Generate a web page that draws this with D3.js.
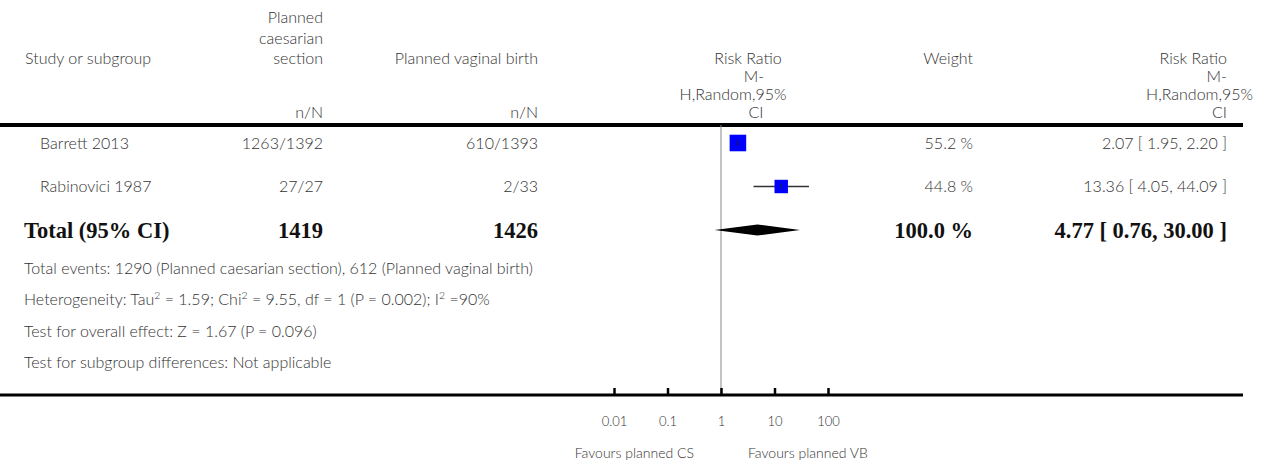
<!DOCTYPE html>
<html>
<head>
<meta charset="utf-8">
<script src="https://cdn.jsdelivr.net/npm/d3@7"></script>
<style>
  body { margin: 0; background: #fff; }
  svg { display: block; }
  text { font-family: Lato, "Open Sans", sans-serif; font-weight: 300; fill: #333; }
  .bold { font-family: "Liberation Serif", "DejaVu Serif", serif; font-weight: bold; fill: #111; }
</style>
</head>
<body>
<svg></svg>
<script>
const width = 1271;
const height = 463;

// study rows
const studies = ["Barrett 2013", "Rabinovici 1987"];
const csEvents = [1263, 27];
const csTotal = [1392, 27];
const vbEvents = [610, 2];
const vbTotal = [1393, 33];
const ratios = [2.07, 13.36];
const lower = [1.95, 4.05];
const upper = [2.20, 44.09];
const weights = [55.2, 44.8];

// pooled
const totalLabel = "Total (95% CI)";
const totalCS = 1419;
const totalVB = 1426;
const totalRatio = 4.77;
const totalLower = 0.76;
const totalUpper = 30.00;
const totalWeight = 100.0;

const footnotes = [
  "Total events: 1290 (Planned caesarian section), 612 (Planned vaginal birth)",
  "Heterogeneity: Tau^2 = 1.59; Chi^2 = 9.55, df = 1 (P = 0.002); I^2 =90%",
  "Test for overall effect: Z = 1.67 (P = 0.096)",
  "Test for subgroup differences: Not applicable"
];

const tickValues = [0.01, 0.1, 1, 10, 100];
const tickLabels = ["0.01", "0.1", "1", "10", "100"];
const favours = ["Favours planned CS", "Favours planned VB"];

const svg = d3.select('svg').attr('width', width).attr('height', height);

const fs = 16;
// columns
const colStudy = 25, colStudyRow = 40, colCS = 323, colVB = 538, colWeight = 973, colRR = 1227;
const lineEnd = 1243;
const headerLineY = 125, axisLineY = 395;

const x = d3.scaleLog().domain([0.01, 100]).range([614, 828]);
const rowY = d3.scalePoint().domain(studies.concat([totalLabel])).range([143, 230]);
const boxSize = d3.scaleLinear().domain([0, 100]).range([0, 30]);

function lines(g, arr, xPos, y0, step, anchor, extra) {
  arr.forEach((t, i) => {
    g.append('text')
      .attr('x', xPos + ((extra && extra[i]) || 0))
      .attr('y', y0 + i * step)
      .attr('text-anchor', anchor)
      .style('font-size', fs + 'px')
      .text(t);
  });
}

// header
const head = svg.append('g').classed('header', true);
lines(head, ["Study or subgroup"], colStudy, 64, 0, 'start');
lines(head, ["Planned", "caesarian", "section"], colCS, 23, 20.5, 'end');
lines(head, ["Planned vaginal birth"], colVB, 64, 0, 'end');
lines(head, ["n/N"], colCS, 118, 0, 'end');
lines(head, ["n/N"], colVB, 118, 0, 'end');
lines(head, ["Risk Ratio", "M-", "H,Random,95%", "CI"], 748, 64, 18, 'middle', [0, 6, -15, 8]);
lines(head, ["Weight"], colWeight, 64, 0, 'end');
lines(head, ["Risk Ratio", "M-", "H,Random,95%", "CI"], colRR, 64, 18, 'end', [0, 0, 26, 0]);

svg.append('line')
  .attr('x1', 0).attr('x2', lineEnd)
  .attr('y1', headerLineY).attr('y2', headerLineY)
  .attr('stroke', '#000').attr('stroke-width', 4);

// line of no effect
svg.append('line')
  .attr('x1', x(1)).attr('x2', x(1))
  .attr('y1', headerLineY).attr('y2', axisLineY)
  .attr('stroke', '#888').attr('stroke-width', 1);

// study rows
const rows = svg.append('g').classed('rows', true)
  .selectAll('g')
  .data(studies)
  .join('g')
  .attr('transform', d => `translate(0,${rowY(d)})`);

rows.append('text').attr('x', colStudyRow).attr('y', 5.5).style('font-size', fs + 'px').text(d => d);
rows.append('text').attr('x', colCS).attr('y', 5.5).attr('text-anchor', 'end').style('font-size', fs + 'px')
  .text((d, i) => `${csEvents[i]}/${csTotal[i]}`);
rows.append('text').attr('x', colVB).attr('y', 5.5).attr('text-anchor', 'end').style('font-size', fs + 'px')
  .text((d, i) => `${vbEvents[i]}/${vbTotal[i]}`);
rows.append('line')
  .attr('x1', (d, i) => x(lower[i])).attr('x2', (d, i) => x(upper[i]))
  .attr('y1', 0).attr('y2', 0)
  .attr('stroke', '#333').attr('stroke-width', 1.5);
rows.append('rect')
  .attr('x', (d, i) => x(ratios[i]) - boxSize(weights[i]) / 2)
  .attr('y', (d, i) => -boxSize(weights[i]) / 2)
  .attr('width', (d, i) => boxSize(weights[i]))
  .attr('height', (d, i) => boxSize(weights[i]))
  .attr('fill', '#0000ff');
rows.append('line')
  .attr('x1', (d, i) => x(ratios[i])).attr('x2', (d, i) => x(ratios[i]))
  .attr('y1', -3).attr('y2', 3)
  .attr('stroke', '#222').attr('stroke-width', 1);
rows.append('text').attr('x', colWeight).attr('y', 5.5).attr('text-anchor', 'end').style('font-size', fs + 'px')
  .text((d, i) => `${weights[i].toFixed(1)} %`);
rows.append('text').attr('x', colRR).attr('y', 5.5).attr('text-anchor', 'end').style('font-size', fs + 'px')
  .text((d, i) => `${ratios[i].toFixed(2)} [ ${lower[i].toFixed(2)}, ${upper[i].toFixed(2)} ]`);

// total row
const tot = svg.append('g').attr('transform', `translate(0,${rowY(totalLabel)})`);
const bfs = '22.5px';
tot.append('text').classed('bold', true).attr('x', colStudy - 1).attr('y', 7.5).style('font-size', bfs).text(totalLabel);
tot.append('text').classed('bold', true).attr('x', colCS).attr('y', 7.5).attr('text-anchor', 'end').style('font-size', bfs).text(totalCS);
tot.append('text').classed('bold', true).attr('x', colVB).attr('y', 7.5).attr('text-anchor', 'end').style('font-size', bfs).text(totalVB);
tot.append('path')
  .attr('d', d3.line()([[x(totalLower), 0], [x(totalRatio), -5.5], [x(totalUpper), 0], [x(totalRatio), 5.5]]) + 'Z')
  .attr('fill', '#000');
tot.append('text').classed('bold', true).attr('x', colWeight).attr('y', 7.5).attr('text-anchor', 'end').style('font-size', bfs)
  .text(`${totalWeight.toFixed(1)} %`);
tot.append('text').classed('bold', true).attr('x', colRR).attr('y', 7.5).attr('text-anchor', 'end').style('font-size', bfs)
  .text(`${totalRatio.toFixed(2)} [ ${totalLower.toFixed(2)}, ${totalUpper.toFixed(2)} ]`);

// footnotes, "^2" becomes a superscript
const notes = svg.append('g').classed('notes', true).selectAll('text')
  .data(footnotes)
  .join('text')
  .attr('x', colStudy - 1)
  .attr('y', (d, i) => 273.5 + i * 31.5)
  .style('font-size', fs + 'px');
notes.each(function (d) {
  const t = d3.select(this);
  d.split('^2').forEach((part, j) => {
    if (j > 0) {
      t.append('tspan').attr('dy', -6).style('font-size', '10.5px').text('2');
      t.append('tspan').attr('dy', 6).text(part);
    } else {
      t.append('tspan').text(part);
    }
  });
});

// axis
svg.append('line')
  .attr('x1', 0).attr('x2', lineEnd)
  .attr('y1', axisLineY).attr('y2', axisLineY)
  .attr('stroke', '#000').attr('stroke-width', 3);
const axis = d3.axisBottom(x).tickValues(tickValues).tickFormat((d, i) => tickLabels[i]).tickSize(0).tickPadding(0);
const axisG = svg.append('g').attr('transform', `translate(0,${axisLineY})`).call(axis);
axisG.select('.domain').remove();
axisG.selectAll('.tick text').attr('y', 31).attr('dy', null).style('font-size', '13px').attr('fill', '#333')
  .style('font-family', 'Lato, sans-serif').style('font-weight', 300);
axisG.selectAll('.tick').append('line').attr('y1', -7).attr('y2', 0).attr('stroke', '#000').attr('stroke-width', 2.5);

svg.append('text').attr('x', x(1) - 27).attr('y', 458).attr('text-anchor', 'end').style('font-size', '14px').text(favours[0]);
svg.append('text').attr('x', x(1) + 27).attr('y', 458).attr('text-anchor', 'start').style('font-size', '14px').text(favours[1]);
</script>
</body>
</html>
